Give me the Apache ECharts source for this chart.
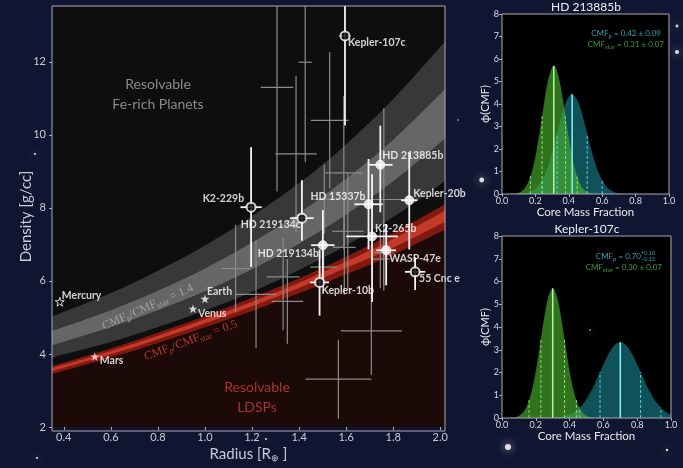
<!DOCTYPE html>
<html>
<head>
<meta charset="utf-8">
<script src="https://cdn.jsdelivr.net/npm/echarts@6/dist/echarts.min.js"></script>
<style>
html, body { margin: 0; padding: 0; background: #101631; }
#main { width: 683px; height: 468px; }
</style>
</head>
<body>
<div id="main"></div>
<script>
// ---------------- Density–radius diagram ----------------
const xTicks = [0.4, 0.6, 0.8, 1.0, 1.2, 1.4, 1.6, 1.8, 2.0];
const yTicks = [2, 4, 6, 8, 10, 12];

// Radii at which the model bands are sampled
const bandRadius = [0.35, 0.6, 0.8, 1.0, 1.2, 1.4, 1.6, 1.8, 2.02];
// CMF_p/CMF_star = 1.4 band (outer and inner limits)
const ironOuterTop = [5.03, 5.67, 6.28, 6.97, 7.77, 8.68, 9.74, 10.98, 12.56];
const ironInnerTop = [4.63, 5.20, 5.73, 6.34, 7.05, 7.86, 8.80, 9.87, 11.25];
const ironInnerBot = [4.24, 4.74, 5.20, 5.72, 6.32, 7.02, 7.82, 8.73, 9.90];
const ironOuterBot = [3.91, 4.33, 4.74, 5.19, 5.70, 6.30, 6.97, 7.75, 8.74];
// CMF_p/CMF_star = 0.5 band
const lightOuterTop = [3.67, 4.15, 4.58, 5.04, 5.54, 6.07, 6.66, 7.31, 8.10];
const lightInnerTop = [3.61, 4.08, 4.50, 4.95, 5.43, 5.95, 6.53, 7.15, 7.92];
const lightInnerBot = [3.53, 3.99, 4.40, 4.84, 5.31, 5.81, 6.36, 6.91, 7.62];
const lightOuterBot = [3.45, 3.90, 4.30, 4.73, 5.18, 5.66, 6.18, 6.72, 7.40];

// Highlighted planets
const planetNames = ['Kepler-107c', 'K2-229b', 'HD 219134c', 'HD 213885b', 'HD 15337b', 'Kepler-20b',
  'K2-265b', 'WASP-47e', '55 Cnc e', 'HD 219134b', 'Kepler-10b'];
const planetRadius = [1.595, 1.196, 1.412, 1.745, 1.695, 1.868, 1.710, 1.770, 1.893, 1.501, 1.487];
const planetRadiusErr = [0.022, 0.045, 0.050, 0.052, 0.060, 0.035, 0.110, 0.042, 0.043, 0.050, 0.040];
const planetDensity = [12.71, 8.02, 7.72, 9.18, 8.10, 8.21, 7.22, 6.84, 6.25, 6.98, 5.96];
const planetDensityUp = [2.40, 1.64, 1.04, 1.07, 1.24, 1.30, 1.70, 0.72, 0.40, 0.96, 0.90];
const planetDensityLow = [2.45, 1.64, 0.62, 1.30, 1.24, 1.35, 1.80, 0.96, 0.50, 0.96, 0.91];
const planetHollow = [true, true, true, false, false, false, false, false, true, false, true];

// Solar-system planets
const solarNames = ['Mercury', 'Venus', 'Earth', 'Mars'];
const solarRadius = [0.383, 0.949, 1.000, 0.532];
const solarDensity = [5.43, 5.24, 5.51, 3.93];

// Rest of the rocky-planet sample
const sampleRadius = [1.306, 1.426, 1.387, 1.530, 1.590, 1.760, 1.130, 1.217, 1.332, 1.350,
  1.567, 1.707, 1.745, 1.759, 1.592, 1.607, 1.507, 1.504];
const sampleRadiusErr = [0.069, 0.028, 0.088, 0.080, 0.080, 0.100, 0.060, 0.085, 0.070, 0.067,
  0.140, 0.130, 0.040, 0.040, 0.048, 0.067, 0.053, 0.057];
const sampleDensity = [11.30, 11.99, 9.48, 10.40, 8.96, 8.23, 6.34, 5.63, 6.11, 5.44,
  3.31, 4.63, 6.60, 6.77, 6.92, 7.36, 8.24, 6.38];
const sampleDensityUp = [2.85, 2.74, 2.14, 1.87, 2.10, 2.50, 1.20, 1.47, 1.07, 1.16,
  1.08, 1.20, 0.80, 0.89, 1.30, 1.60, 0.95, 0.70];
const sampleDensityLow = [2.85, 2.74, 2.14, 1.87, 2.10, 2.50, 1.20, 1.47, 1.46, 1.16,
  1.08, 1.20, 0.80, 0.89, 1.30, 1.60, 0.95, 0.70];

// ---------------- CMF posteriors ----------------
const cmfTicks = [0.0, 0.2, 0.4, 0.6, 0.8, 1.0];
// HD 213885b
const hdStarX = [0.0, 0.025, 0.05, 0.075, 0.1, 0.125, 0.15, 0.175, 0.2, 0.225, 0.25, 0.275, 0.3, 0.31,
  0.325, 0.35, 0.375, 0.4, 0.425, 0.45, 0.475, 0.5, 0.525, 0.55, 0.575, 0.6];
const hdStarY = [0.0, 0.0, 0.01, 0.02, 0.06, 0.17, 0.42, 0.89, 1.66, 2.73, 3.95, 5.03, 5.64, 5.70,
  5.57, 4.84, 3.70, 2.49, 1.48, 0.77, 0.35, 0.14, 0.05, 0.02, 0.0, 0.0];
const hdPlanetX = [0.075, 0.1, 0.125, 0.15, 0.175, 0.2, 0.225, 0.25, 0.275, 0.3, 0.325, 0.35, 0.375, 0.4,
  0.42, 0.425, 0.45, 0.475, 0.5, 0.525, 0.55, 0.575, 0.6, 0.625, 0.65, 0.675, 0.7, 0.725, 0.75];
const hdPlanetY = [0.0, 0.01, 0.02, 0.05, 0.11, 0.22, 0.42, 0.74, 1.21, 1.82, 2.54, 3.28, 3.91, 4.32,
  4.43, 4.42, 4.19, 3.68, 2.98, 2.24, 1.56, 1.01, 0.60, 0.33, 0.17, 0.08, 0.03, 0.01, 0.0];
const hdStarMarks = [0.17, 0.24, 0.31, 0.38, 0.45];
const hdPlanetMarks = [0.24, 0.33, 0.42, 0.51, 0.60];
// Kepler-107c
const kpStarX = [0.025, 0.05, 0.075, 0.1, 0.125, 0.15, 0.175, 0.2, 0.225, 0.25, 0.275, 0.3,
  0.325, 0.35, 0.375, 0.4, 0.425, 0.45, 0.475, 0.5, 0.525, 0.55, 0.575];
const kpStarY = [0.0, 0.01, 0.03, 0.10, 0.25, 0.57, 1.16, 2.06, 3.21, 4.42, 5.35, 5.70,
  5.35, 4.42, 3.21, 2.06, 1.16, 0.57, 0.25, 0.10, 0.03, 0.01, 0.0];
const kpPlanetX = [0.25, 0.275, 0.3, 0.325, 0.35, 0.375, 0.4, 0.425, 0.45, 0.475, 0.5, 0.525, 0.55,
  0.575, 0.6, 0.625, 0.65, 0.675, 0.7, 0.725, 0.75, 0.775, 0.8, 0.825, 0.85, 0.875, 0.9, 0.925,
  0.95, 0.975, 1.0];
const kpPlanetY = [0.0, 0.01, 0.01, 0.03, 0.05, 0.09, 0.15, 0.24, 0.38, 0.57, 0.83, 1.15, 1.52,
  1.93, 2.35, 2.74, 3.05, 3.26, 3.33, 3.26, 3.05, 2.74, 2.35, 1.93, 1.52, 1.15, 0.83, 0.57,
  0.38, 0.24, 0.15];
const kpStarMarks = [0.16, 0.23, 0.30, 0.37, 0.44];
const kpPlanetMarks = [0.46, 0.58, 0.70, 0.82, 0.94];

// ---------------- styling ----------------
const FONT = 'Lato';
const AXIS_TEXT = '#c9ccd8';
const FRAME = '#a9abb3';
const MAIN = { left: 52, top: 6, width: 393, height: 425 };
const PANEL_A = { left: 502, top: 14, width: 167, height: 180 };
const PANEL_B = { left: 502, top: 236, width: 169, height: 182 };

// label anchor: [align, dx, dy] relative to the marker centre
const labelPlacement = {
  'Kepler-107c': ['left', 3, 7], 'K2-229b': ['right', -7, -9], 'HD 219134c': ['right', -1, 6],
  'HD 213885b': ['left', 2, -9], 'HD 15337b': ['right', -3, -8], 'Kepler-20b': ['left', 4, -7],
  'K2-265b': ['left', 3, -8], 'WASP-47e': ['left', 3, 8], '55 Cnc e': ['left', 4, 7],
  'HD 219134b': ['right', -4, 8], 'Kepler-10b': ['left', 2, 8],
  'Mercury': ['left', 2, -6], 'Venus': ['left', 5, 5], 'Earth': ['left', 2, -7], 'Mars': ['left', 5, 4]
};

const STAR_PATH = 'path://M50,0 L61.2,34.5 L97.6,34.5 L68.2,55.9 L79.4,90.5 L50,69.1 L20.6,90.5 L31.8,55.9 L2.4,34.5 L38.8,34.5 Z';

function pairs(xs, ys) { return xs.map((x, i) => [x, ys[i]]); }
function interp(xs, ys, x) {
  for (let i = 0; i < xs.length - 1; i++) {
    if (x >= xs[i] && x <= xs[i + 1]) {
      const t = (x - xs[i]) / (xs[i + 1] - xs[i]);
      return ys[i] + t * (ys[i + 1] - ys[i]);
    }
  }
  return 0;
}

// filled region under one band boundary; later layers paint over earlier ones
function bandLayer(values, color, z) {
  return {
    type: 'line', xAxisIndex: 0, yAxisIndex: 0,
    data: pairs(bandRadius, values), smooth: 0.35, showSymbol: false, silent: true,
    lineStyle: { width: 0 }, z,
    areaStyle: { color, opacity: 1, origin: 'start' }
  };
}

// error-bar crosses
function crossSeries(r, rErr, d, up, low, color, width, z) {
  return {
    type: 'custom', xAxisIndex: 0, yAxisIndex: 0, clip: true, silent: true, z,
    data: r.map((v, i) => [v, d[i], rErr[i], up[i], low[i]]),
    renderItem(params, api) {
      const x = api.value(0), y = api.value(1), ex = api.value(2), eu = api.value(3), el = api.value(4);
      const a = api.coord([x - ex, y]), b = api.coord([x + ex, y]);
      const c = api.coord([x, y + eu]), e = api.coord([x, y - el]);
      const style = { stroke: color, lineWidth: width };
      return {
        type: 'group', children: [
          { type: 'line', shape: { x1: a[0], y1: a[1], x2: b[0], y2: b[1] }, style },
          { type: 'line', shape: { x1: c[0], y1: c[1], x2: e[0], y2: e[1] }, style }
        ]
      };
    }
  };
}

function labelFor(name) {
  const p = labelPlacement[name];
  return {
    show: true, position: 'inside', align: p[0], verticalAlign: 'middle', offset: [p[1], p[2]],
    formatter: name, color: '#ffffff', fontFamily: FONT, fontWeight: 'bold', fontSize: 10.5
  };
}

const planetPoints = planetNames.map((n, i) => ({
  name: n, value: [planetRadius[i], planetDensity[i]],
  itemStyle: planetHollow[i]
    ? { color: '#000000', borderColor: '#ffffff', borderWidth: 2 }
    : { color: '#ffffff', borderColor: '#ffffff', borderWidth: 1 },
  label: labelFor(n)
}));
const solarPoints = solarNames.map((n, i) => ({
  name: n, value: [solarRadius[i], solarDensity[i]],
  itemStyle: n === 'Mercury'
    ? { color: 'rgba(0,0,0,0)', borderColor: '#ffffff', borderWidth: 1 }
    : { color: n === 'Mars' ? '#f6dede' : '#ffffff' },
  label: labelFor(n)
}));

// posterior mark lines (solid median, dashed 1σ / 2σ)
function markSeries(axis, xs, curveX, curveY, solidColor, dashColor) {
  const mid = Math.floor(xs.length / 2);
  return {
    type: 'custom', xAxisIndex: axis, yAxisIndex: axis, silent: true, z: 5,
    data: xs.map((x, i) => [x, interp(curveX, curveY, x), i === mid ? 1 : 0]),
    renderItem(params, api) {
      const p0 = api.coord([api.value(0), 0]), p1 = api.coord([api.value(0), api.value(1)]);
      const solid = api.value(2) === 1;
      return {
        type: 'line', shape: { x1: p0[0], y1: p0[1], x2: p1[0], y2: p1[1] },
        style: { stroke: solid ? solidColor : dashColor, lineWidth: solid ? 1.5 : 1, lineDash: solid ? null : [3, 2] }
      };
    }
  };
}

function areaSeries(axis, xs, ys, color, z) {
  return {
    type: 'line', xAxisIndex: axis, yAxisIndex: axis, data: pairs(xs, ys), smooth: 0.3,
    showSymbol: false, silent: true, lineStyle: { width: 0 }, z,
    areaStyle: { color, opacity: 1, origin: 'start' }
  };
}

function panelAxes(idx, nameGapX) {
  return {
    x: {
      type: 'value', gridIndex: idx, min: 0, max: 1,
      axisLine: { show: false },
      axisTick: { show: true, length: 3, customValues: cmfTicks, lineStyle: { color: FRAME } },
      axisLabel: { customValues: cmfTicks, formatter: v => v.toFixed(1), color: '#d8dae2', fontSize: 9, margin: 3, fontFamily: FONT },
      splitLine: { show: false },
      name: 'Core Mass Fraction', nameLocation: 'middle', nameGap: nameGapX, nameMoveOverlap: false,
      nameTextStyle: { color: '#e8e9ee', fontSize: 11.5, fontFamily: FONT }
    },
    y: {
      type: 'value', gridIndex: idx, min: 0, max: 8, interval: 1,
      axisLine: { show: false },
      axisTick: { show: true, length: 3, lineStyle: { color: FRAME } },
      axisLabel: { color: '#d8dae2', fontSize: 9, margin: 3, fontFamily: FONT },
      splitLine: { show: false },
      name: 'ϕ(CMF)', nameLocation: 'middle', nameGap: 11, nameRotate: 90, nameMoveOverlap: false,
      nameTextStyle: { color: '#e8e9ee', fontSize: 11, fontFamily: FONT }
    }
  };
}
const axA = panelAxes(1, 12), axB = panelAxes(2, 12);

const sub = { fontSize: 6, verticalAlign: 'bottom', lineHeight: 12 };
function richAnno(x, y, text, color) {
  return {
    type: 'text', x, y, z: 50, silent: true,
    style: {
      text, align: 'right', verticalAlign: 'middle', fill: color, fontSize: 8, fontFamily: FONT, lineHeight: 12,
      rich: { s: Object.assign({ fill: color, fontFamily: FONT }, sub) }
    }
  };
}

const starField = [[481.7, 180, 2.4], [677, 52, 2], [677, 26, 1.4], [508, 447, 3], [35, 154, 1.1],
  [266, 439, 1.0], [37, 458, 1.1], [667, 450, 1.2], [590, 330, 0.8], [458, 120, 0.8]];

const option = {
  backgroundColor: '#101631',
  animation: false,
  textStyle: { fontFamily: FONT },
  title: [
    { text: 'HD 213885b', left: 586, top: 1, padding: 0, textAlign: 'center', textStyle: { color: '#f0f0f4', fontSize: 12, fontWeight: 'normal', fontFamily: FONT } },
    { text: 'Kepler-107c', left: 587, top: 223, padding: 0, textAlign: 'center', textStyle: { color: '#f0f0f4', fontSize: 12, fontWeight: 'normal', fontFamily: FONT } }
  ],
  grid: [
    Object.assign({ show: true, backgroundColor: '#0e0e0e', borderWidth: 0 }, MAIN),
    Object.assign({ show: true, backgroundColor: '#000000', borderWidth: 0 }, PANEL_A),
    Object.assign({ show: true, backgroundColor: '#000000', borderWidth: 0 }, PANEL_B)
  ],
  xAxis: [
    {
      type: 'value', gridIndex: 0, min: 0.35, max: 2.02,
      axisLine: { show: false },
      axisTick: { show: true, length: 3, customValues: xTicks, lineStyle: { color: FRAME } },
      axisLabel: { customValues: xTicks, formatter: v => v.toFixed(1), color: AXIS_TEXT, fontSize: 11, margin: 5, fontFamily: FONT },
      splitLine: { show: false },
      name: 'Radius [R{s|⊕} ]', nameLocation: 'middle', nameGap: 18, nameMoveOverlap: false,
      nameTextStyle: { color: AXIS_TEXT, fontSize: 15, fontFamily: FONT, rich: { s: { fontSize: 9, verticalAlign: 'bottom', lineHeight: 18, color: AXIS_TEXT } } }
    },
    axA.x, axB.x
  ],
  yAxis: [
    {
      type: 'value', gridIndex: 0, min: 2, max: 13.53,
      axisLine: { show: false },
      axisTick: { show: true, length: 3, customValues: yTicks, lineStyle: { color: FRAME } },
      axisLabel: { customValues: yTicks, color: AXIS_TEXT, fontSize: 11, margin: 6, fontFamily: FONT },
      splitLine: { show: false },
      name: 'Density [g/cc]', nameLocation: 'middle', nameGap: 18, nameRotate: 90, nameMoveOverlap: false,
      nameTextStyle: { color: AXIS_TEXT, fontSize: 15, fontFamily: FONT }
    },
    axA.y, axB.y
  ],
  series: [
    // bands painted from the top boundary downwards
    bandLayer(ironOuterTop, '#383838', 1),
    bandLayer(ironInnerTop, '#666666', 1),
    bandLayer(ironInnerBot, '#383838', 1),
    bandLayer(ironOuterBot, '#0e0e0e', 1),
    bandLayer(lightOuterTop, '#80190f', 1),
    bandLayer(lightInnerTop, '#c3392a', 1),
    bandLayer(lightInnerBot, '#80190f', 1),
    bandLayer(lightOuterBot, '#1b0a08', 1),
    // band captions
    {
      type: 'custom', xAxisIndex: 0, yAxisIndex: 0, silent: true, z: 3,
      data: [[0.757, 5.28, 0.412, 0], [0.94, 4.37, 0.35, 1]],
      renderItem(params, api) {
        const p = api.coord([api.value(0), api.value(1)]);
        const isIron = api.value(3) === 0;
        const color = isIron ? '#a2a2a2' : '#b8392d';
        return {
          type: 'text', x: p[0], y: p[1], rotation: api.value(2),
          style: {
            text: 'CMF{s|ρ}/CMF{s|star} = ' + (isIron ? '1.4' : '0.5'),
            align: 'center', verticalAlign: 'middle', fill: color,
            fontFamily: 'Liberation Serif', fontSize: 12, lineHeight: 15,
            rich: { s: { fill: color, fontFamily: 'Liberation Serif', fontSize: 8.5, verticalAlign: 'bottom', lineHeight: 15 } }
          }
        };
      }
    },
    crossSeries(sampleRadius, sampleRadiusErr, sampleDensity, sampleDensityUp, sampleDensityLow, '#8b8b8b', 1.2, 4),
    crossSeries(planetRadius, planetRadiusErr, planetDensity, planetDensityUp, planetDensityLow, '#f4f4f4', 1.8, 5),
    {
      type: 'scatter', xAxisIndex: 0, yAxisIndex: 0, symbol: 'circle', symbolSize: 9, z: 6,
      data: planetPoints, silent: true
    },
    {
      type: 'scatter', xAxisIndex: 0, yAxisIndex: 0, symbol: STAR_PATH, symbolSize: 9, z: 6,
      data: solarPoints, silent: true
    },
    // posterior panels
    areaSeries(1, hdPlanetX, hdPlanetY, 'rgba(24,132,146,0.62)', 2),
    areaSeries(1, hdStarX, hdStarY, 'rgba(74,180,46,0.64)', 3),
    markSeries(1, hdPlanetMarks, hdPlanetX, hdPlanetY, '#8ff2f4', '#5ccbd4'),
    markSeries(1, hdStarMarks, hdStarX, hdStarY, '#b8f5a0', '#8fd87a'),
    areaSeries(2, kpPlanetX, kpPlanetY, 'rgba(24,132,146,0.62)', 2),
    areaSeries(2, kpStarX, kpStarY, 'rgba(74,180,46,0.64)', 3),
    markSeries(2, kpPlanetMarks, kpPlanetX, kpPlanetY, '#8ff2f4', '#5ccbd4'),
    markSeries(2, kpStarMarks, kpStarX, kpStarY, '#b8f5a0', '#8fd87a')
  ],
  graphic: [
    ...starField.map(s => ({
      type: 'circle', shape: { cx: s[0], cy: s[1], r: s[2] }, silent: true, z: 0,
      style: { fill: '#ffffff', shadowBlur: 8, shadowColor: 'rgba(255,255,255,0.9)', opacity: 0.85 }
    })),
    { type: 'rect', shape: { x: MAIN.left, y: MAIN.top, width: MAIN.width, height: MAIN.height }, z: 40, silent: true, style: { fill: 'none', stroke: FRAME, lineWidth: 1 } },
    { type: 'rect', shape: { x: PANEL_A.left, y: PANEL_A.top, width: PANEL_A.width, height: PANEL_A.height }, z: 40, silent: true, style: { fill: 'none', stroke: FRAME, lineWidth: 1 } },
    { type: 'rect', shape: { x: PANEL_B.left, y: PANEL_B.top, width: PANEL_B.width, height: PANEL_B.height }, z: 40, silent: true, style: { fill: 'none', stroke: FRAME, lineWidth: 1 } },
    { type: 'text', x: 158, y: 94, z: 40, silent: true, style: { text: 'Resolvable\nFe-rich Planets', align: 'center', verticalAlign: 'middle', fill: '#8a8a8a', fontSize: 14, lineHeight: 20, fontFamily: FONT } },
    { type: 'text', x: 257, y: 397, z: 40, silent: true, style: { text: 'Resolvable\nLDSPs', align: 'center', verticalAlign: 'middle', fill: '#a8342a', fontSize: 14, lineHeight: 20, fontFamily: FONT } },
    richAnno(661, 33, 'CMF{s|ρ} = 0.42 ± 0.09', '#2aa2b2'),
    richAnno(664, 44, 'CMF{s|star} = 0.31 ± 0.07', '#3f9c27'),
    richAnno(641, 256, 'CMF{s|ρ} = 0.70', '#2aa2b2'),
    { type: 'text', x: 641, y: 253, z: 50, silent: true, style: { text: '+0.10', align: 'left', verticalAlign: 'middle', fill: '#2aa2b2', fontSize: 5.5, fontFamily: FONT } },
    { type: 'text', x: 641, y: 259.5, z: 50, silent: true, style: { text: '−0.12', align: 'left', verticalAlign: 'middle', fill: '#2aa2b2', fontSize: 5.5, fontFamily: FONT } },
    richAnno(662, 267, 'CMF{s|star} = 0.30 ± 0.07', '#3f9c27')
  ]
};

const chart = echarts.init(document.getElementById('main'));
chart.setOption(option);
</script>
</body>
</html>
